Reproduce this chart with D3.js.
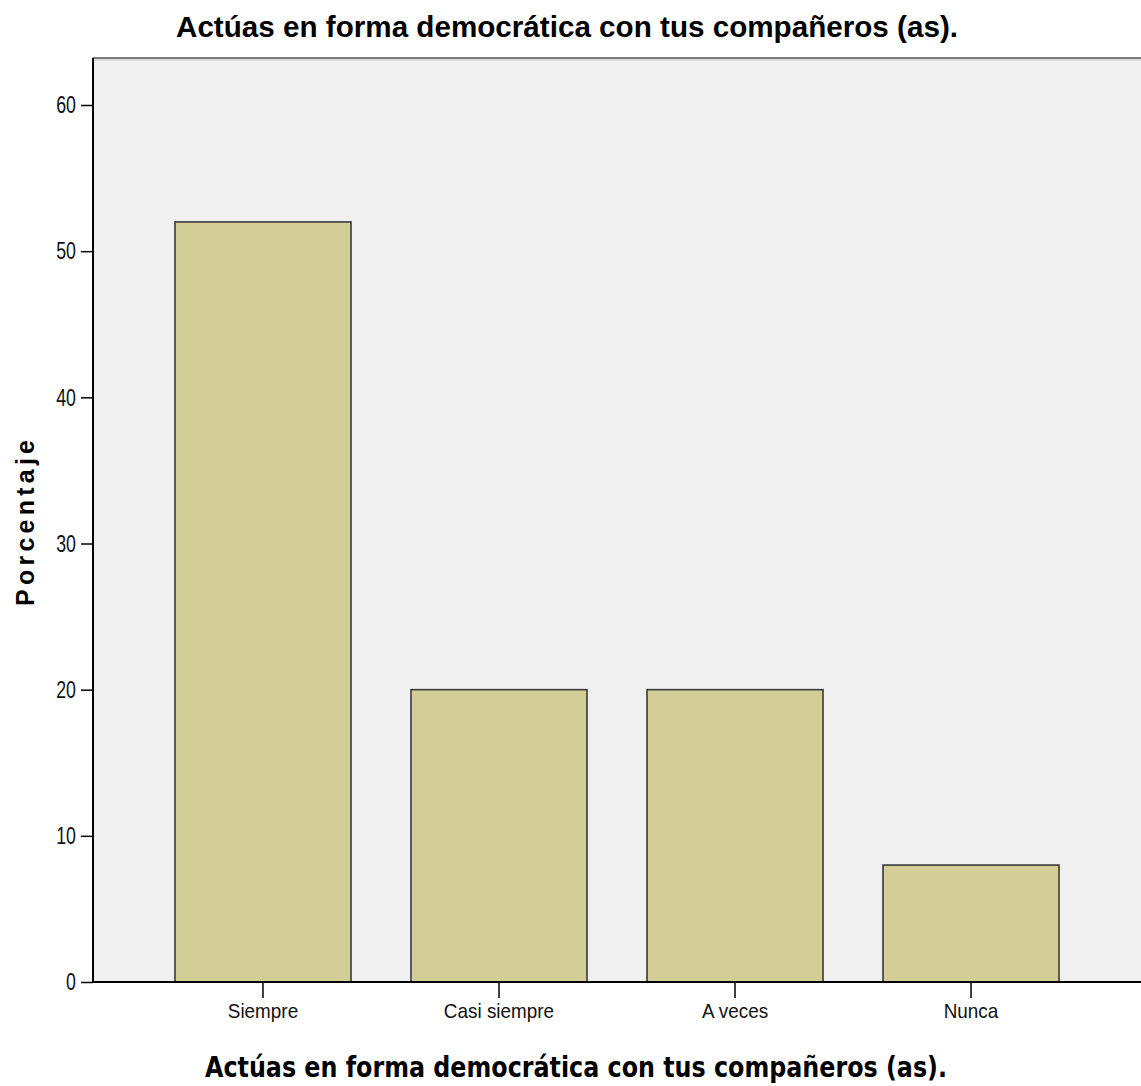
<!DOCTYPE html>
<html>
<head>
<meta charset="utf-8">
<script src="https://cdn.jsdelivr.net/npm/d3@7"></script>
<style>
  body { margin: 0; background: #fff; }
</style>
</head>
<body>
<script>
// data
var categories = ["Siempre", "Casi siempre", "A veces", "Nunca"];
var percentages = [52, 20, 20, 8];
var yTicks = [0, 10, 20, 30, 40, 50, 60];
var chartTitle = "Actúas en forma democrática con tus compañeros (as).";
var xTitle = "Actúas en forma democrática con tus compañeros (as).";
var yTitle = "Porcentaje";

var W = 1141, H = 1086;
var plot = {left: 93, right: 1141, top: 58, bottom: 982};
var narrow = "'Liberation Sans Narrow', 'Arial Narrow', 'Liberation Sans', Arial, sans-serif";

var svg = d3.select("body").append("svg")
    .attr("width", W)
    .attr("height", H);

// scales
var y = d3.scaleLinear()
    .domain([0, 60])
    .range([plot.bottom, 105]);

var x = d3.scaleBand()
    .domain(categories)
    .range([145, 1089])
    .paddingInner(0.2542)
    .paddingOuter(0.127);

// plot background
svg.append("rect")
    .attr("x", plot.left)
    .attr("y", plot.top)
    .attr("width", plot.right - plot.left)
    .attr("height", plot.bottom - plot.top)
    .attr("fill", "#f0f0f0");

// top frame line
svg.append("line")
    .attr("x1", plot.left).attr("x2", plot.right)
    .attr("y1", plot.top).attr("y2", plot.top)
    .attr("stroke", "#7a7a7a").attr("stroke-width", 2);
svg.append("line")
    .attr("x1", plot.left).attr("x2", plot.right)
    .attr("y1", plot.top + 2).attr("y2", plot.top + 2)
    .attr("stroke", "#c8c8c8").attr("stroke-width", 1);

// bars
svg.selectAll(".bar")
    .data(percentages)
  .enter().append("rect")
    .attr("class", "bar")
    .attr("x", function(d, i) { return x(categories[i]); })
    .attr("y", function(d) { return y(d); })
    .attr("width", x.bandwidth())
    .attr("height", function(d) { return y(0) - y(d); })
    .attr("fill", "#d3ce97")
    .attr("stroke", "#3a3a3a")
    .attr("stroke-width", 1.6);

// y axis
var yAxis = svg.append("g")
    .attr("transform", "translate(" + plot.left + ",0)")
    .call(d3.axisLeft(y).tickValues(yTicks).tickSize(12).tickPadding(0));
yAxis.select(".domain")
    .attr("d", "M0," + plot.top + "V" + plot.bottom)
    .attr("stroke", "#000").attr("stroke-width", 2);
yAxis.selectAll(".tick line").attr("stroke", "#000").attr("stroke-width", 1.5);
yAxis.selectAll(".tick text")
    .attr("x", -17 / 0.74)
    .attr("transform", "scale(0.74,1)")
    .attr("font-family", narrow)
    .attr("font-size", 24)
    .attr("fill", "#111");

// x axis
var xAxis = svg.append("g")
    .attr("transform", "translate(0," + plot.bottom + ")")
    .call(d3.axisBottom(x).tickSize(16).tickPadding(5));
xAxis.select(".domain")
    .attr("d", "M" + plot.left + ",0H" + plot.right)
    .attr("stroke", "#000").attr("stroke-width", 2);
xAxis.selectAll(".tick line").attr("stroke", "#000").attr("stroke-width", 1.5);
xAxis.selectAll(".tick text")
    .attr("transform", "scale(0.9,1)")
    .attr("font-family", narrow)
    .attr("font-size", 21)
    .attr("fill", "#111");

// chart title
svg.append("text")
    .attr("x", 567)
    .attr("y", 37)
    .attr("text-anchor", "middle")
    .attr("font-family", narrow)
    .attr("font-weight", "bold")
    .attr("font-size", 30)
    .attr("textLength", 782)
    .attr("lengthAdjust", "spacingAndGlyphs")
    .text(chartTitle);

// x axis title
svg.append("text")
    .attr("x", 576)
    .attr("y", 1077)
    .attr("text-anchor", "middle")
    .attr("font-family", "'DejaVu Sans Condensed', 'DejaVu Sans', sans-serif")
    .attr("font-stretch", "condensed")
    .attr("font-weight", "bold")
    .attr("font-size", 29)
    .attr("textLength", 742)
    .attr("lengthAdjust", "spacingAndGlyphs")
    .text(xTitle);

// y axis title
svg.append("text")
    .attr("transform", "translate(34," + 523 + ") rotate(-90)")
    .attr("text-anchor", "middle")
    .attr("font-family", "'Liberation Sans', Arial, sans-serif")
    .attr("font-weight", "bold")
    .attr("font-size", 25)
    .attr("textLength", 166)
    .attr("lengthAdjust", "spacing")
    .text(yTitle);
</script>
</body>
</html>
